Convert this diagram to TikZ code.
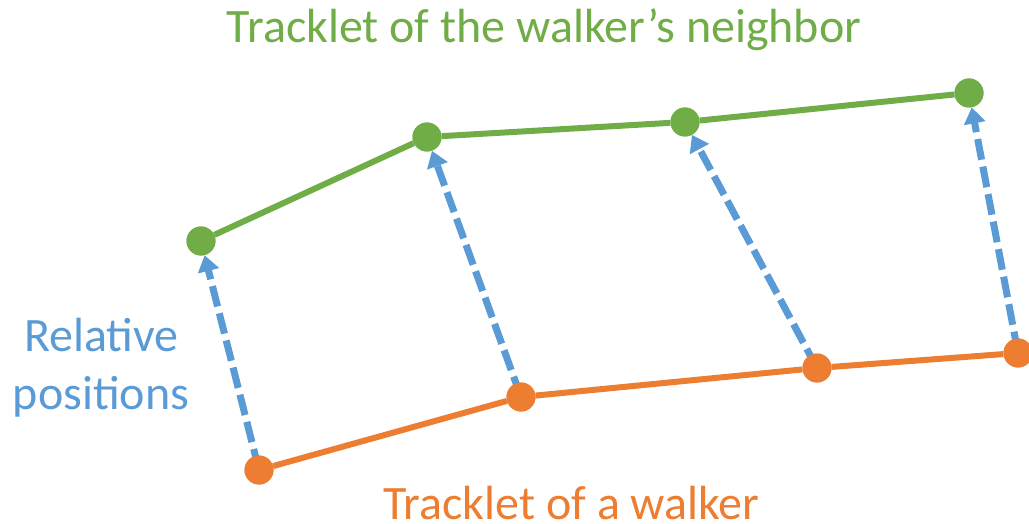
\documentclass[tikz,border=0pt]{standalone}
\usepackage{fontspec}
\setmainfont{Carlito}
\usetikzlibrary{arrows.meta}
\definecolor{tgreen}{HTML}{70AD47}
\definecolor{torange}{HTML}{ED7D31}
\definecolor{tblue}{HTML}{5B9BD5}
\tikzset{
  gdot/.style={circle, fill=tgreen, inner sep=0pt, minimum size=29pt},
  odot/.style={circle, fill=torange, inner sep=0pt, minimum size=29pt},
  gtrack/.style={draw=tgreen, line width=6pt},
  otrack/.style={draw=torange, line width=6pt},
  relarrow/.style={draw=tblue, line width=7pt, dash pattern=on 21pt off 7pt,
    -{Triangle[length=16pt,width=21pt]}, shorten <=-14pt},
  lbl/.style={anchor=base, inner sep=0pt, text depth=0pt, font=\fontsize{48}{56}\selectfont}
}
\begin{document}
\begin{tikzpicture}[x=1pt,y=-1pt]
\useasboundingbox (0,0) rectangle (1029,524);
% neighbor tracklet
\node[gdot] (g1) at (201,241) {};
\node[gdot] (g2) at (427,137) {};
\node[gdot] (g3) at (685,122) {};
\node[gdot] (g4) at (969,93) {};
% walker tracklet
\node[odot] (o1) at (259,470) {};
\node[odot] (o2) at (521,397) {};
\node[odot] (o3) at (817,368) {};
\node[odot] (o4) at (1018,353) {};
% tracklet polylines
\draw[gtrack] (g1) -- (g2) -- (g3) -- (g4);
\draw[otrack] (o1) -- (o2) -- (o3) -- (o4);
% relative position vectors
\draw[relarrow] (o1) -- (g1);
\draw[relarrow] (o2) -- (g2);
\draw[relarrow] (o3) -- (g3);
\draw[relarrow] (o4) -- (g4);
% dots on top of the lines
\foreach \n in {g1,g2,g3,g4} \fill[tgreen] (\n.center) circle (14.5pt);
\foreach \n in {o1,o2,o3,o4} \fill[torange] (\n.center) circle (14.5pt);
% labels
\node[lbl, text=tgreen] (top) at (544,43) {Tracklet of the walker’s neighbor};
\node[lbl, text=torange] (bot) at (571.5,519) {Tracklet of a walker};
\node[lbl, text=tblue] (rel1) at (101.5,351) {Relative};
\node[lbl, text=tblue] (rel2) at (101,409) {positions};
\end{tikzpicture}
\end{document}
